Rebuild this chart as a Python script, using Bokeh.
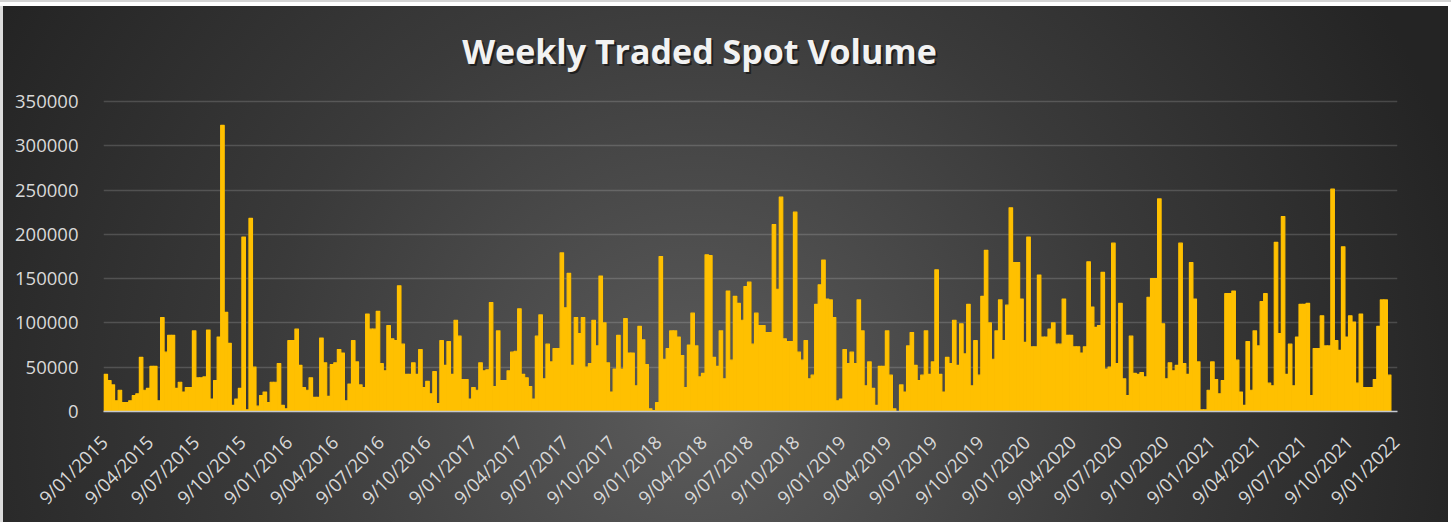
import numpy as np
import pandas as pd
from math import pi
from bokeh.plotting import figure
from bokeh.models import Range1d, FixedTicker, Label, ColumnDataSource
from bokeh.embed import file_html
from bokeh.resources import INLINE

title_text = "Weekly Traded Spot Volume"
first_week = "9/01/2015"

# weekly traded spot volume, in thousands
volume_k = [
    42, 35, 30, 12, 24, 10, 10, 12, 18, 20, 61, 24, 26, 51, 51, 12, 106, 67, 86, 86,
    26, 33, 22, 27, 27, 91, 38, 38, 39, 92, 14, 35, 84, 323, 112, 77, 7, 14, 26, 197,
    2, 218, 50, 6, 18, 22, 10, 33, 33, 54, 7, 3, 80, 80, 93, 52, 27, 24, 38, 16,
    16, 83, 55, 17, 53, 55, 70, 66, 12, 31, 80, 56, 30, 27, 110, 93, 93, 113, 54, 46,
    97, 82, 80, 142, 76, 42, 42, 55, 42, 70, 27, 34, 20, 45, 9, 80, 52, 79, 42, 103,
    85, 36, 36, 14, 27, 24, 55, 46, 47, 123, 28, 91, 35, 35, 46, 67, 68, 116, 42, 38,
    28, 14, 85, 109, 37, 76, 56, 71, 71, 179, 117, 156, 52, 106, 88, 106, 50, 54, 103, 74,
    153, 100, 55, 22, 48, 86, 48, 105, 66, 66, 29, 96, 81, 53, 3, 1, 10, 175, 59, 71,
    91, 91, 84, 63, 27, 75, 111, 74, 39, 43, 177, 176, 61, 51, 91, 37, 136, 58, 130, 122,
    103, 141, 146, 76, 111, 97, 97, 89, 89, 211, 138, 242, 82, 79, 79, 225, 67, 58, 80, 37,
    41, 121, 143, 171, 127, 126, 106, 12, 14, 70, 54, 67, 54, 126, 91, 29, 56, 26, 7, 51,
    51, 91, 41, 3, 0, 30, 22, 74, 89, 52, 35, 41, 91, 42, 56, 160, 42, 22, 61, 54,
    103, 52, 99, 65, 121, 29, 80, 41, 130, 182, 100, 59, 91, 126, 80, 120, 230, 168, 168, 127,
    78, 197, 73, 73, 154, 84, 84, 93, 100, 76, 76, 127, 86, 86, 73, 73, 66, 73, 169, 118,
    95, 97, 157, 48, 50, 190, 54, 122, 37, 18, 85, 43, 42, 44, 39, 129, 150, 150, 240, 99,
    37, 55, 46, 52, 190, 54, 42, 168, 127, 56, 2, 2, 24, 56, 36, 20, 35, 133, 133, 136,
    58, 22, 7, 79, 24, 91, 74, 124, 133, 32, 29, 191, 88, 220, 42, 76, 29, 84, 121, 121,
    122, 18, 71, 71, 108, 74, 74, 251, 80, 69, 186, 84, 108, 101, 32, 110, 27, 27, 27, 36,
    96, 126, 126, 41,
]

x_tick_labels = [
    "9/01/2015", "9/04/2015", "9/07/2015", "9/10/2015",
    "9/01/2016", "9/04/2016", "9/07/2016", "9/10/2016",
    "9/01/2017", "9/04/2017", "9/07/2017", "9/10/2017",
    "9/01/2018", "9/04/2018", "9/07/2018", "9/10/2018",
    "9/01/2019", "9/04/2019", "9/07/2019", "9/10/2019",
    "9/01/2020", "9/04/2020", "9/07/2020", "9/10/2020",
    "9/01/2021", "9/04/2021", "9/07/2021", "9/10/2021",
    "9/01/2022",
]
y_tick_values = [0, 50000, 100000, 150000, 200000, 250000, 300000, 350000]

# ---- derived positions (days since first week) ----
t0 = pd.to_datetime(first_week, format="%d/%m/%Y")
weeks = pd.date_range(t0, periods=len(volume_k), freq="7D")
day = np.asarray((weeks - t0).days, dtype=float)
tick_days = [int((pd.to_datetime(s, format="%d/%m/%Y") - t0).days) for s in x_tick_labels]
top = np.asarray(volume_k, dtype=float) * 1000

src = ColumnDataSource(dict(x=day + 3.5, xs=day + 5.0, top=top))

W, H = 1451, 522
left, right, bottom = 103, 54, 111
frame_w = W - left - right          # 1294
frame_h = H - bottom                # 411 (frame reaches the top; title sits inside it)
grid_px = 310                       # pixels between 0 and 350000
y_max = y_tick_values[-1] * frame_h / grid_px
x0, x1 = -1, 2561

p = figure(width=W, height=H, output_backend="svg", toolbar_location=None,
           x_range=Range1d(x0, x1), y_range=Range1d(0, y_max),
           min_border_left=left, min_border_right=right, min_border_top=0,
           min_border_bottom=bottom)

p.background_fill_alpha = 0
p.border_fill_alpha = 0
p.outline_line_color = None
p.styles = {"background": (
    "linear-gradient(to bottom, #d4d4d4 0px, #d4d4d4 2px, #ffffff 2px, #ffffff 6px, transparent 6px), "
    "linear-gradient(to right, #dcdcdc 0px, #dcdcdc 3px, transparent 3px, transparent calc(100% - 3px), #ffffff calc(100% - 3px)), "
    "radial-gradient(ellipse 55% 150% at 48% 78%, #5b5b5b 0%, #3a3a3a 55%, #242424 100%)")}

# shadow then bars
p.vbar(x="xs", top="top", width=7, bottom=0, source=src,
       fill_color="black", fill_alpha=0.35, line_color=None)
p.vbar(x="x", top="top", width=7, bottom=0, source=src,
       fill_color="#FFC000", line_color="#FFC000", line_width=1.2, line_join="round")

# grid
p.xgrid.grid_line_color = None
p.ygrid.ticker = FixedTicker(ticks=y_tick_values)
p.ygrid.grid_line_color = "#ffffff"
p.ygrid.grid_line_alpha = 0.16
p.ygrid.grid_line_width = 1.5

# y axis
p.yaxis.ticker = FixedTicker(ticks=y_tick_values)
p.yaxis.major_label_overrides = {v: str(v) for v in y_tick_values}
p.yaxis.axis_line_color = None
p.yaxis.major_tick_line_color = None
p.yaxis.minor_tick_line_color = None
p.yaxis.major_label_text_color = "#d9d9d9"
p.yaxis.major_label_text_font = "Open Sans"
p.yaxis.major_label_text_font_size = "18.5px"
p.yaxis.major_label_standoff = 19

# x axis
p.xaxis.ticker = FixedTicker(ticks=tick_days)
p.xaxis.major_label_overrides = {d: s for d, s in zip(tick_days, x_tick_labels)}
p.xaxis.major_label_orientation = pi / 4
p.xaxis.axis_line_color = "#c4c8ce"
p.xaxis.axis_line_width = 1.5
p.xaxis.major_tick_line_color = None
p.xaxis.minor_tick_line_color = None
p.xaxis.major_label_text_color = "#d9d9d9"
p.xaxis.major_label_text_font = "Open Sans"
p.xaxis.major_label_text_font_size = "18.5px"
p.xaxis.major_label_standoff = 21

# title (inside the tall frame, above the grid) with a soft shadow
px_x = (x1 - x0) / frame_w
px_y = y_max / frame_h
tx = x0 + (699 - left) * px_x
ty = (frame_h - 50) * px_y
p.add_layout(Label(x=tx + 2 * px_x, y=ty - 2 * px_y, text=title_text,
                   text_align="center", text_baseline="alphabetic", text_font="Open Sans",
                   text_font_style="bold", text_font_size="34px",
                   text_color="black", text_alpha=0.5))
p.add_layout(Label(x=tx, y=ty, text=title_text,
                   text_align="center", text_baseline="alphabetic", text_font="Open Sans",
                   text_font_style="bold", text_font_size="34px",
                   text_color="#f2f2f2"))

open("out.html", "w").write(file_html(p, INLINE))
